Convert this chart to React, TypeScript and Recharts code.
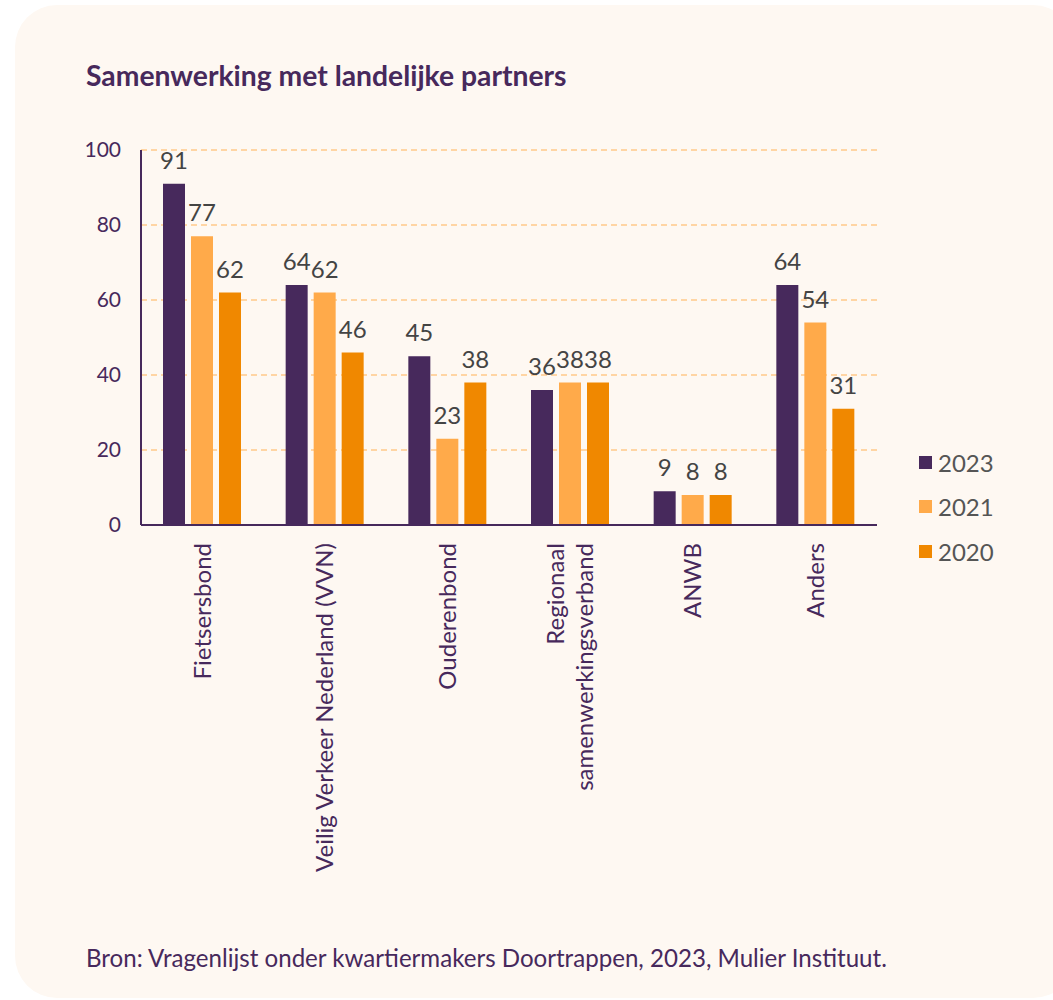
import React from "react";
import { BarChart, Bar, XAxis, YAxis, CartesianGrid, LabelList } from "recharts";

const categories = [
  "Fietsersbond",
  "Veilig Verkeer Nederland (VVN)",
  "Ouderenbond",
  "Regionaal\nsamenwerkingsverband",
  "ANWB",
  "Anders",
];
const values2023 = [91, 64, 45, 36, 9, 64];
const values2021 = [77, 62, 23, 38, 8, 54];
const values2020 = [62, 46, 38, 38, 8, 31];
const yTicks = [0, 20, 40, 60, 80, 100];
const seriesNames = ["2023", "2021", "2020"];
const seriesColors = ["#47295C", "#FFAA4A", "#F08800"];

const title = "Samenwerking met landelijke partners";
const source = "Bron: Vragenlijst onder kwartiermakers Doortrappen, 2023, Mulier Instituut.";

const data = categories.map((c, i) => ({
  name: c,
  v2023: values2023[i],
  v2021: values2021[i],
  v2020: values2020[i],
}));
const keys = ["v2023", "v2021", "v2020"];

const PURPLE = "#47295C";
const FONT = "Lato, 'Open Sans', sans-serif";

const XTick = (props: any) => {
  const { x, payload } = props;
  const lines = String(payload.value).split("\n");
  const n = lines.length;
  return (
    <g transform={`translate(${x},${525})`}>
      <text
        transform="rotate(-90)"
        textAnchor="end"
        fill={PURPLE}
        fontSize={24}
        fontFamily={FONT}
      >
        {lines.map((l, i) => (
          <tspan key={i} x={-18} y={(i - (n - 1) / 2) * 29} dy="0.35em">
            {l}
          </tspan>
        ))}
      </text>
    </g>
  );
};

export default function App() {
  return (
    <div style={{ position: "relative", width: 1053, height: 1000, background: "#fff", fontFamily: FONT }}>
      <style>{"body{margin:0;overflow:hidden}"}</style>
      <div
        style={{
          position: "absolute",
          left: 15,
          top: 5,
          width: 1060,
          height: 993,
          background: "#FEF8F2",
          borderRadius: 42,
        }}
      />
      <div
        style={{
          position: "absolute",
          left: 86,
          top: 58,
          fontSize: 28.3,
          fontWeight: 700,
          color: PURPLE,
          fontFamily: FONT,
          whiteSpace: "nowrap",
        }}
      >
        {title}
      </div>
      <div style={{ position: "absolute", left: 0, top: 0 }}>
        <BarChart
          width={1053}
          height={1000}
          data={data}
          margin={{ top: 150, right: 176, left: 91, bottom: 95 }}
          barCategoryGap="18%"
          barGap={6}
        >
          <CartesianGrid
            vertical={false}
            stroke="#FFC98A"
            strokeDasharray="6 4"
            strokeWidth={1.5}
          />
          <XAxis
            dataKey="name"
            interval={0}
            height={380}
            tick={<XTick />}
            tickLine={false}
            axisLine={{ stroke: PURPLE, strokeWidth: 2 }}
          />
          <YAxis
            width={50}
            domain={[0, 100]}
            ticks={yTicks}
            tickLine={false}
            tickMargin={14}
            axisLine={{ stroke: PURPLE, strokeWidth: 2 }}
            tick={{ fill: PURPLE, fontSize: 21, fontFamily: FONT }}
          />
          {keys.map((k, i) => (
            <Bar
              key={k}
              dataKey={k}
              name={seriesNames[i]}
              fill={seriesColors[i]}
              barSize={22}
              isAnimationActive={false}
            >
              <LabelList
                dataKey={k}
                position="top"
                offset={15}
                fill="#444"
                fontSize={24}
                fontFamily={FONT}
              />
            </Bar>
          ))}
        </BarChart>
      </div>
      <div style={{ position: "absolute", left: 919, top: 440 }}>
        {seriesNames.map((s, i) => (
          <div
            key={s}
            style={{ display: "flex", alignItems: "center", height: 44.5, fontSize: 24, color: "#555", fontFamily: FONT }}
          >
            <span style={{ display: "inline-block", width: 13, height: 13, background: seriesColors[i], marginRight: 6 }} />
            {s}
          </div>
        ))}
      </div>
      <div
        style={{
          position: "absolute",
          left: 86,
          top: 943,
          fontSize: 24.1,
          color: PURPLE,
          fontFamily: FONT,
          whiteSpace: "nowrap",
        }}
      >
        {source}
      </div>
    </div>
  );
}
